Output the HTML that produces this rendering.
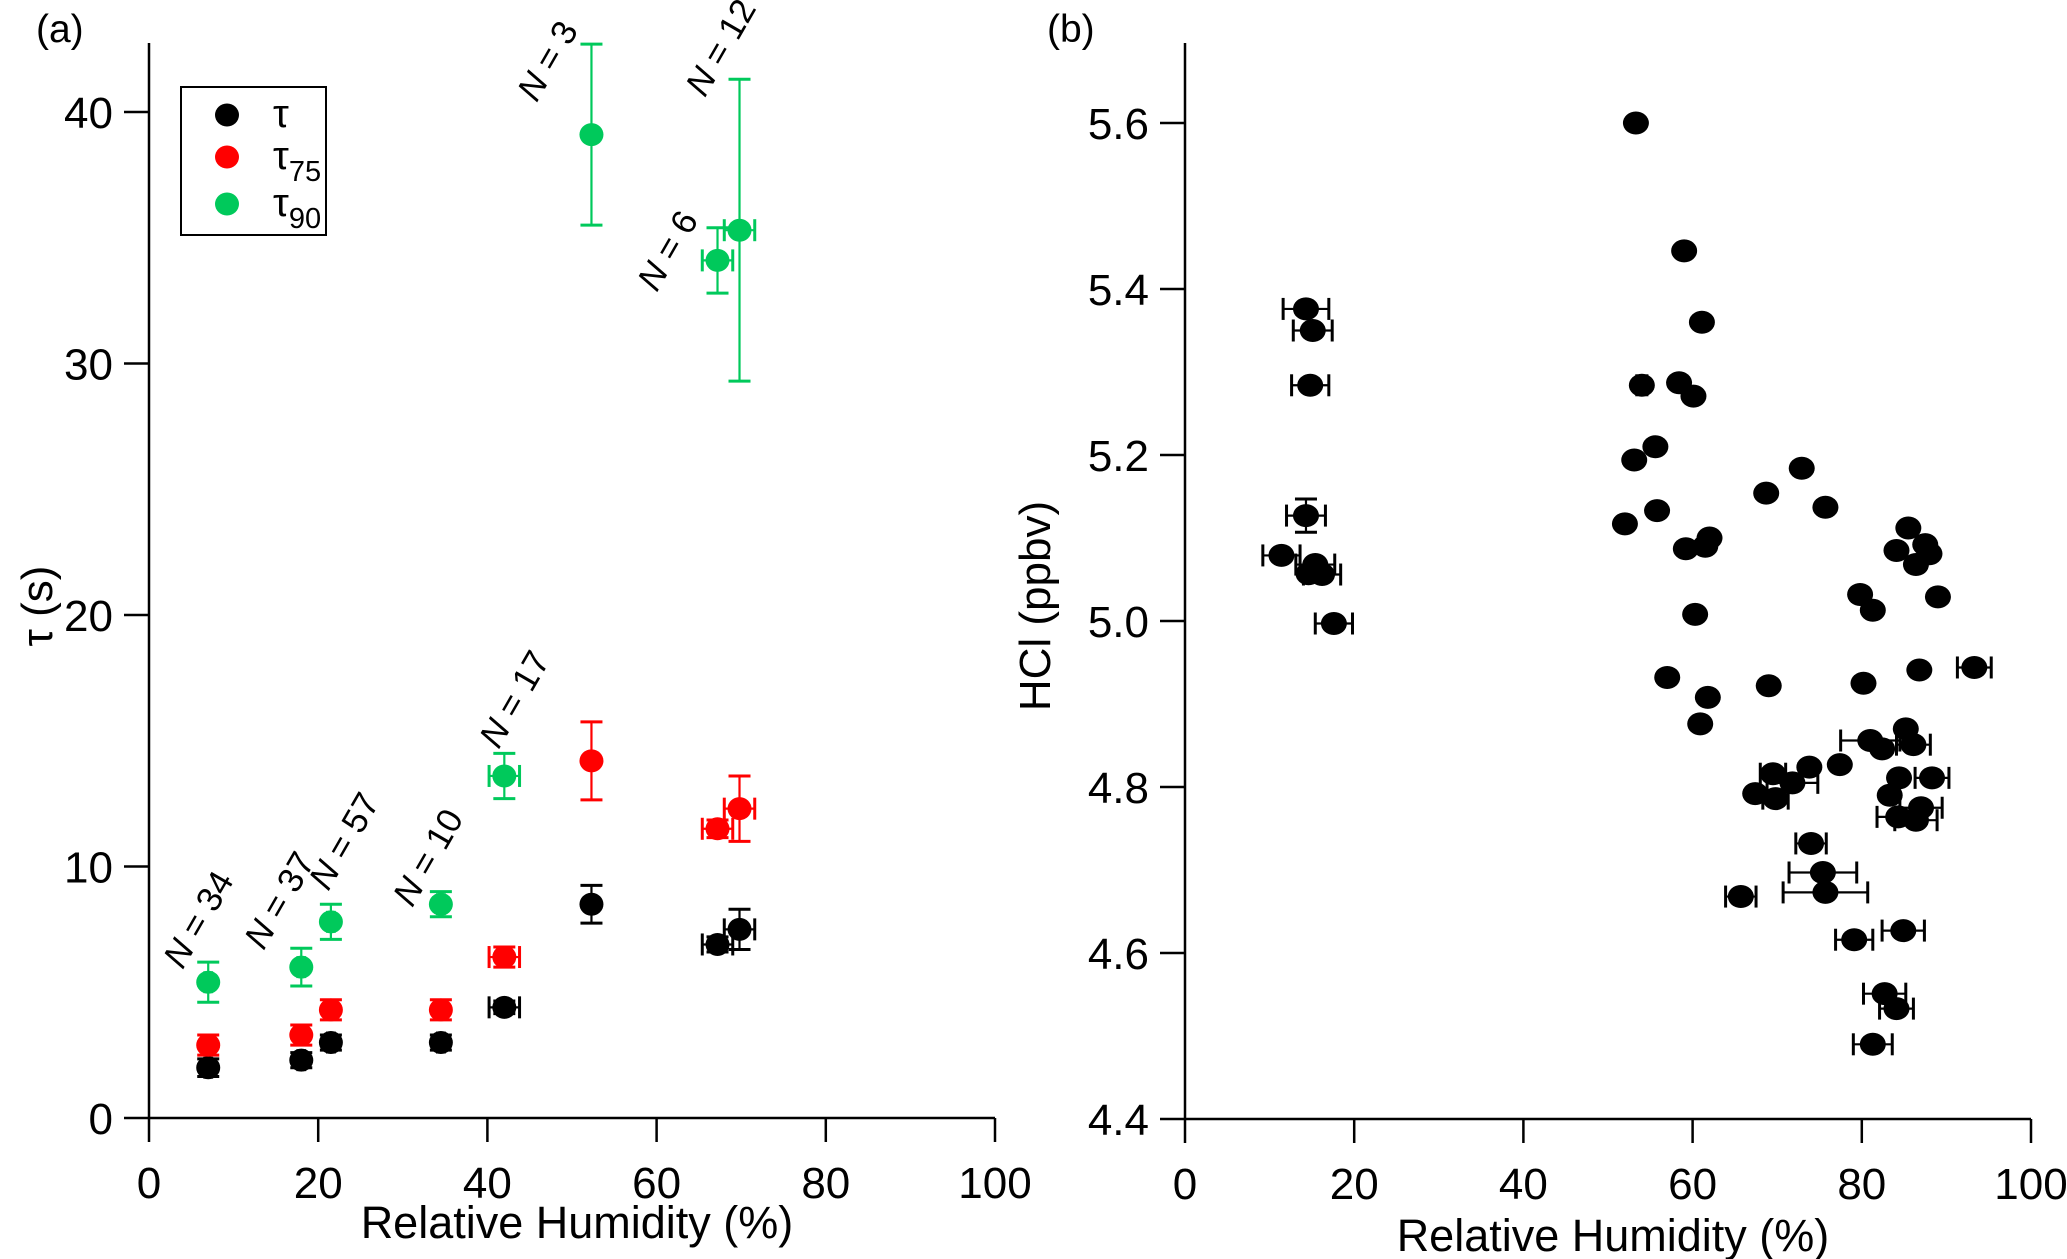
<!DOCTYPE html>
<html><head><meta charset="utf-8"><style>
html,body{margin:0;padding:0;background:#fff;}
svg{display:block;font-family:"Liberation Sans",sans-serif;}
</style></head><body>
<svg id="fig" width="2067" height="1259" viewBox="0 0 2067 1259" xmlns="http://www.w3.org/2000/svg">
<g id="pa"></g>
<g id="pb"></g>
</svg>
<script>
// Panel A data
const aCats = ['tau','tau75','tau90'];
const aX = [7, 18, 21.5, 34.5, 42, 52.3, 67.2, 69.8];
const aXErr = [0.4, 0.4, 0.4, 0.4, 1.8, 0.2, 1.8, 1.8];
const aTau = [2.0, 2.3, 3.0, 3.0, 4.4, 8.5, 6.9, 7.5];
const aTauErr = [0.35, 0.3, 0.3, 0.3, 0.25, 0.75, 0.3, 0.8];
const aTau75 = [2.9, 3.3, 4.3, 4.3, 6.4, 14.2, 11.5, 12.3];
const aTau75Err = [0.4, 0.4, 0.4, 0.4, 0.4, 1.55, 0.35, 1.3];
const aTau90 = [5.4, 6.0, 7.8, 8.5, 13.6, 39.1, 34.1, 35.3];
const aTau90Err = [0.8, 0.75, 0.7, 0.5, 0.9, 3.6, 1.3, 6.0];
const aNLabels = ['N = 34','N = 37','N = 57','N = 10','N = 17','N = 3','N = 6','N = 12'];
const aYTicks = [0, 10, 20, 30, 40];
const xTicks = [0, 20, 40, 60, 80, 100];
// Panel B data
const bX = [53.3,59.0,14.3,15.1,61.1,14.8,54.0,58.4,60.1,55.6,53.1,72.9,68.7,75.7,55.8,14.3,52.0,85.5,62.0,59.2,61.5,84.1,87.5,88.0,86.4,11.4,15.4,16.2,14.6,79.8,81.3,89.0,60.3,17.6,93.3,86.8,57.0,69.0,80.2,61.8,60.9,85.2,81.0,82.4,86.1,69.5,73.8,77.4,71.8,67.4,69.8,84.4,88.3,83.3,87.0,84.3,86.4,74.0,75.4,75.7,65.7,79.1,84.9,82.7,84.1,81.3];
const bY = [5.600,5.446,5.376,5.350,5.360,5.284,5.284,5.287,5.271,5.210,5.194,5.184,5.154,5.137,5.133,5.127,5.117,5.112,5.100,5.087,5.090,5.085,5.092,5.081,5.068,5.079,5.068,5.056,5.057,5.032,5.013,5.029,5.008,4.997,4.944,4.941,4.932,4.922,4.925,4.908,4.876,4.870,4.856,4.846,4.851,4.816,4.824,4.827,4.805,4.792,4.786,4.811,4.811,4.790,4.775,4.764,4.760,4.732,4.697,4.673,4.668,4.616,4.627,4.551,4.533,4.490];
const bXErr = [0,0,2.7,2.3,0,2.2,0.6,0,0,0,0,0,0,0,0,2.3,0,0,0,0,0,0,0,0,0,2.2,2.3,2.2,0,0,0,0,0,2.2,2,0,0,0,0,0,0,0,3.5,0,2,1.5,0,0,3,0,1.5,0,2,0,2.5,2.5,2.5,1.8,4,5,1.8,2.2,2.5,2.5,2,2.3];
const bYErr = [0,0,0,0,0,0,0,0,0,0,0,0,0,0,0,0.02,0,0,0,0,0,0,0,0,0,0,0,0,0,0,0,0,0,0,0,0,0,0,0,0,0,0,0,0,0,0,0,0,0,0,0,0,0,0,0,0,0,0,0,0,0,0,0,0,0,0];
const bYTicks = [4.4, 4.6, 4.8, 5.0, 5.2, 5.4, 5.6];

const NS='http://www.w3.org/2000/svg';
function mk(parent, tag, attrs, text){const e=document.createElementNS(NS,tag);for(const k in attrs)e.setAttribute(k,attrs[k]);if(text!==undefined)e.textContent=text;parent.appendChild(e);return e;}

const axA = {x0:149, x1:995, y0:1118, yTop:43};
const xA = v => axA.x0 + (axA.x1-axA.x0)*v/100;
const yA = v => 1118 - (1118-112)*v/40;
const axB = {x0:1185, x1:2031, y0:1119, yTop:43};
const xB = v => axB.x0 + (axB.x1-axB.x0)*v/100;
const yB = v => 1119 - (1119-123)*(v-4.4)/1.2;

function axes(g, ax, xf, yf, yt, fmt, xtitle, ytitle, ytx, label, lx, xtOff){
  let e;
  e=mk(g,'line',{x1:ax.x0,y1:ax.y0,x2:ax.x1,y2:ax.y0,stroke:'#000','stroke-width':2.5});
   
  e=mk(g,'line',{x1:ax.x0,y1:ax.yTop,x2:ax.x0,y2:ax.y0,stroke:'#000','stroke-width':2.5});
   
  xTicks.forEach(t=>{
    e=mk(g,'line',{x1:xf(t),y1:ax.y0,x2:xf(t),y2:ax.y0+24,stroke:'#000','stroke-width':2.5});
     
    e=mk(g,'text',{x:xf(t),y:ax.y0+80,'font-size':44,'text-anchor':'middle'},String(t));
     
  });
  yt.forEach(t=>{
    e=mk(g,'line',{x1:ax.x0-25,y1:yf(t),x2:ax.x0,y2:yf(t),stroke:'#000','stroke-width':2.5});
     
    e=mk(g,'text',{x:ax.x0-36,y:yf(t)+16,'font-size':44,'text-anchor':'end'},fmt(t));
     
  });
  e=mk(g,'text',{x:(ax.x0+ax.x1)/2+5,y:ax.y0+xtOff,'font-size':45,'text-anchor':'middle'},xtitle);
   
  e=mk(g,'text',{x:ytx,y:606,'font-size':44,'text-anchor':'middle',transform:`rotate(-90 ${ytx} 606)`},ytitle);
   
  e=mk(g,'text',{x:lx,y:42,'font-size':39},label);
   
}

function point(g, cx, cy, xe1, xe2, ye1, ye2, col, name, rx, ry){
  const grp=mk(g,'g',{});
  
  
  const sw=2.2, cap=11;
  if(Math.abs(ye2-ye1)>1){
    mk(grp,'line',{x1:cx,y1:ye1,x2:cx,y2:ye2,stroke:col,'stroke-width':sw});
    mk(grp,'line',{x1:cx-cap,y1:ye1,x2:cx+cap,y2:ye1,stroke:col,'stroke-width':sw+0.8});
    mk(grp,'line',{x1:cx-cap,y1:ye2,x2:cx+cap,y2:ye2,stroke:col,'stroke-width':sw+0.8});
  }
  if(Math.abs(xe2-xe1)>1){
    mk(grp,'line',{x1:xe1,y1:cy,x2:xe2,y2:cy,stroke:col,'stroke-width':sw});
    mk(grp,'line',{x1:xe1,y1:cy-cap,x2:xe1,y2:cy+cap,stroke:col,'stroke-width':sw+0.8});
    mk(grp,'line',{x1:xe2,y1:cy-cap,x2:xe2,y2:cy+cap,stroke:col,'stroke-width':sw+0.8});
  }
  mk(grp,'ellipse',{cx:cx,cy:cy,rx:rx,ry:ry,fill:col});
}

// Panel A
const pa=document.getElementById('pa');
axes(pa, axA, xA, yA, aYTicks, t=>String(t), 'Relative Humidity (%)', 'τ (s)', 52, '(a)', 36, 120);
const colors={tau:'#000000',tau75:'#ff0000',tau90:'#00c95b'};
const series={tau:[aTau,aTauErr],tau75:[aTau75,aTau75Err],tau90:[aTau90,aTau90Err]};
aCats.forEach(c=>{
  const [v,er]=series[c];
  aX.forEach((x,i)=>{
    point(pa, xA(x), yA(v[i]), xA(x-aXErr[i]), xA(x+aXErr[i]), yA(v[i]-er[i]), yA(v[i]+er[i]), colors[c], 'point-'+c, 12, 11.5);
  });
});
const nOffX=[-10,-22,13,-13,10,-44,-50,-19];
const nOffY=[-63,-67,-81,-47,-77,-74,-10,-183];
aNLabels.forEach((s,i)=>{
  const x=xA(aX[i])+nOffX[i], y=yA(aTau90[i])+nOffY[i];
  const t=mk(pa,'text',{x:x,y:y,'font-size':35,'text-anchor':'middle','dominant-baseline':'central',transform:`rotate(-60 ${x} ${y})`});
  
  
  const parts=s.split('N');
  mk(t,'tspan',{'font-style':'italic'},'N');
  mk(t,'tspan',{},parts[1]);
});
const lg=mk(pa,'g',{});


mk(lg,'rect',{x:181,y:87,width:145,height:148,fill:'#fff',stroke:'#000','stroke-width':2});
const legY=[115,157,204];
aCats.forEach((c,i)=>{
  const e=mk(lg,'g',{});
  
  
  mk(e,'ellipse',{cx:227,cy:legY[i],rx:12,ry:11.5,fill:colors[c]});
  const t=mk(e,'text',{x:273,y:legY[i]+12,'font-size':40},'τ');
  if(c!=='tau') mk(t,'tspan',{'font-size':29,dy:12},c.slice(3));
});

// Panel B
const pb=document.getElementById('pb');
axes(pb, axB, xB, yB, bYTicks, t=>t.toFixed(1), 'Relative Humidity (%)', 'HCl (ppbv)', 1050, '(b)', 1047, 132);
bX.forEach((x,i)=>{
  point(pb, xB(x), yB(bY[i]), xB(x-bXErr[i]), xB(x+bXErr[i]), yB(bY[i]-bYErr[i]), yB(bY[i]+bYErr[i]), '#000', 'point-hcl', 13, 11.5);
});
</script>
</body></html>
